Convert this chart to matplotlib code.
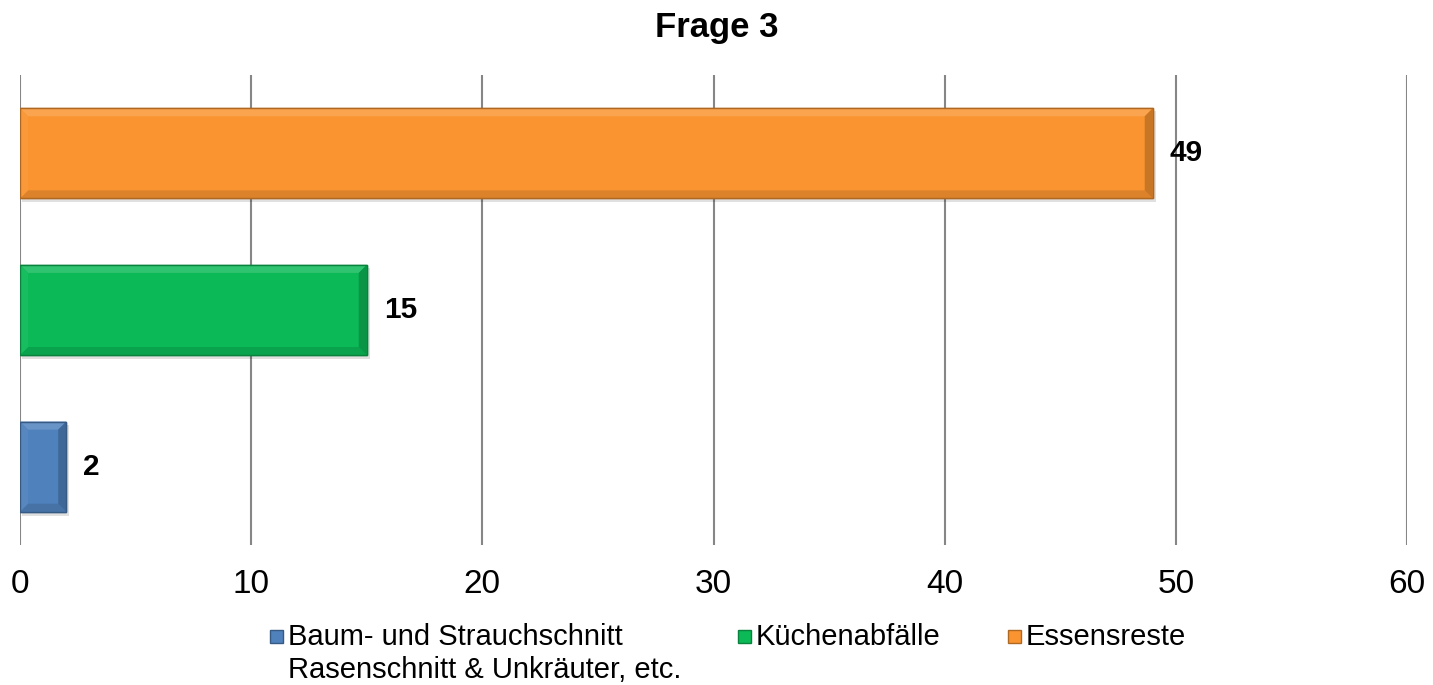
import matplotlib
matplotlib.use('Agg')
import matplotlib.pyplot as plt
from matplotlib.patches import Polygon, Rectangle
from matplotlib.colors import to_rgb

plt.rcParams['font.family'] = ['Liberation Sans', 'DejaVu Sans']

# data
series = ['Baum- und Strauchschnitt\nRasenschnitt & Unkräuter, etc.', 'Küchenabfälle', 'Essensreste']
values = [2, 15, 49]
colors = ['#4F81BD', '#0BB957', '#F99430']
xticks = [0, 10, 20, 30, 40, 50, 60]


def shade(c, f):
    r, g, b = to_rgb(c)
    if f > 1:
        return (r + (1 - r) * (f - 1), g + (1 - g) * (f - 1), b + (1 - b) * (f - 1))
    return (r * f, g * f, b * f)


def bevel_bar(ax, y, w, h, col, px_x, px_y, bev=8):
    x0, x1 = 0, w
    y0, y1 = y - h / 2, y + h / 2
    bx, by = bev * px_x, bev * px_y
    # soft shadow
    ax.add_patch(Polygon([(x0 + 2 * px_x, y0 - 4 * px_y), (x1 + 3 * px_x, y0 - 4 * px_y),
                          (x1 + 3 * px_x, y1 - 3 * px_y), (x0 + 2 * px_x, y1 - 3 * px_y)],
                         closed=True, fc='#000000', alpha=0.12, lw=0, zorder=2))
    ax.barh(y, w, height=h, color=col, edgecolor=shade(col, 0.7), linewidth=1, zorder=3)
    # top
    ax.add_patch(Polygon([(x0, y1), (x1, y1), (x1 - bx, y1 - by), (x0 + bx, y1 - by)],
                         closed=True, fc=shade(col, 1.15), lw=0, zorder=4))
    # bottom
    ax.add_patch(Polygon([(x0, y0), (x1, y0), (x1 - bx, y0 + by), (x0 + bx, y0 + by)],
                         closed=True, fc=shade(col, 0.88), lw=0, zorder=4))
    # right
    ax.add_patch(Polygon([(x1, y0), (x1, y1), (x1 - bx, y1 - by), (x1 - bx, y0 + by)],
                         closed=True, fc=shade(col, 0.8), lw=0, zorder=4))
    # left
    ax.add_patch(Polygon([(x0, y0), (x0, y1), (x0 + bx, y1 - by), (x0 + bx, y0 + by)],
                         closed=True, fc=shade(col, 1.05), lw=0, zorder=4))
    ax.barh(y, w, height=h, color='none', edgecolor=shade(col, 0.7), linewidth=1, zorder=5)


fig = plt.figure(figsize=(14.33, 6.85), dpi=100)
ax = fig.add_axes([20 / 1433, 1 - 545 / 685, 1387 / 1433, 470 / 685])
ax.set_xlim(0, 60)
ax.set_ylim(-0.5, 2.5)

px_x = 60 / 1387
px_y = 3 / 470

for i, (v, c) in enumerate(zip(values, colors)):
    bevel_bar(ax, i, v, 0.575, c, px_x, px_y)
    ax.text(v + 17 * px_x, i, str(v), fontsize=21.5, fontweight='bold', va='center', ha='left', zorder=6)

ax.set_xticks(xticks)
ax.set_yticks([])
ax.grid(axis='x', color='#868686', linewidth=1.5, zorder=0)
for s in ax.spines.values():
    s.set_visible(False)
ax.tick_params(axis='x', length=0, labelsize=24, pad=17)

fig.text(0.5, 1 - 27 / 685, 'Frage 3', ha='center', va='center', fontsize=25, fontweight='bold')

# legend, drawn by hand so the marker sits at the first line
leg_x = [270, 738, 1008]
for x, c, lab in zip(leg_x, colors, series):
    fig.add_artist(Rectangle((x / 1433, 1 - 643 / 685), 13 / 1433, 13 / 685, transform=fig.transFigure,
                             facecolor=c, edgecolor=shade(c, 0.7), linewidth=1))
    fig.text((x + 18) / 1433, 1 - 623 / 685, lab, ha='left', va='top', fontsize=21, linespacing=1.25)

fig.savefig('out.png', dpi=100)
